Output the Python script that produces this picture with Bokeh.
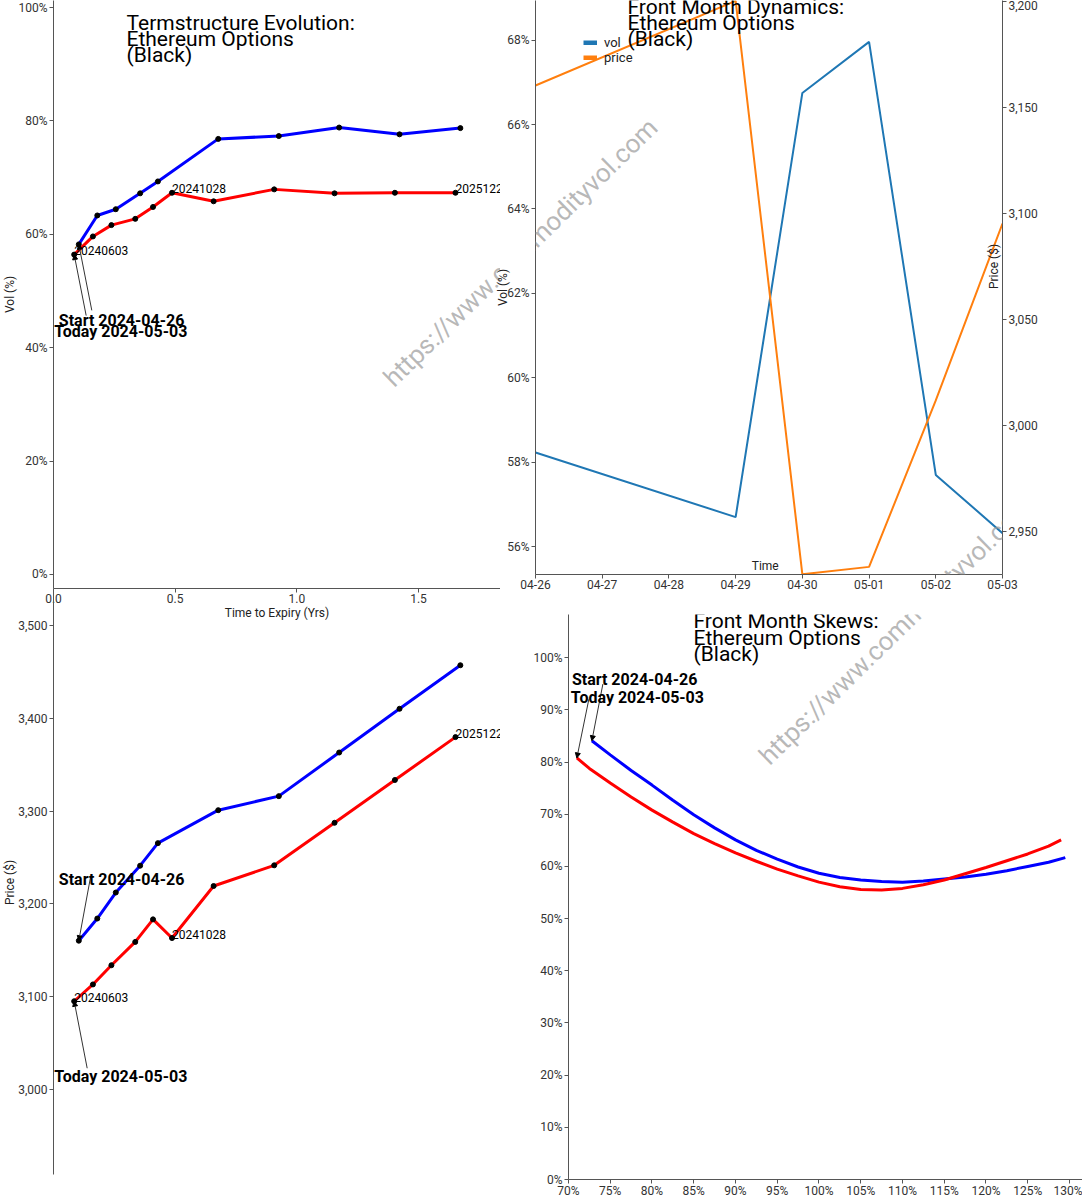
import math
import pandas as pd
from bokeh.plotting import figure
from bokeh.models import (Label, Arrow, NormalHead, Range1d, LinearAxis, DatetimeAxis,
                          NumeralTickFormatter, FixedTicker, DatetimeTickFormatter,
                          Legend, LegendItem)
from bokeh.layouts import row, column
from bokeh.embed import file_html
from bokeh.resources import INLINE
from bokeh.core.properties import value

# ---------------- data ----------------
start_date = "2024-04-26"
today_date = "2024-05-03"

ts_start_tenor = [0.104, 0.180, 0.256, 0.356, 0.429, 0.677, 0.926, 1.174, 1.422, 1.672]
ts_start_vol = [0.582, 0.633, 0.644, 0.672, 0.693, 0.768, 0.773, 0.788, 0.776, 0.787]
ts_start_price = [3160.4, 3184.3, 3212.3, 3241.2, 3265.5, 3301.0, 3316.1, 3363.1, 3410.2, 3457.1]

ts_today_tenor = [0.085, 0.162, 0.238, 0.336, 0.409, 0.487, 0.658, 0.907, 1.155, 1.403, 1.652]
ts_today_vol = [0.564, 0.596, 0.616, 0.627, 0.648, 0.673, 0.658, 0.679, 0.672, 0.673, 0.673]
ts_today_price = [3095.2, 3113.3, 3134.0, 3159.1, 3183.4, 3163.3, 3219.3, 3241.6, 3287.4, 3333.5, 3379.7]

expiry_labels = ["20240603", "20241028", "20251226"]
expiry_label_idx = [0, 5, 10]

fm_dates = ["2024-04-26", "2024-04-29", "2024-04-30", "2024-05-01", "2024-05-02", "2024-05-03"]
fm_vol = [0.5823, 0.5670, 0.6675, 0.6796, 0.5770, 0.5632]
fm_price = [3160.4, 3200.3, 2929.8, 2933.3, 3011.8, 3095.3]

skew_start_m = [0.728, 0.75, 0.775, 0.80, 0.825, 0.85, 0.875, 0.90, 0.925, 0.95, 0.975, 1.00,
                1.025, 1.05, 1.075, 1.10, 1.125, 1.15, 1.175, 1.20, 1.225, 1.25, 1.275, 1.295]
skew_start_vol = [0.841, 0.814, 0.784, 0.756, 0.727, 0.699, 0.674, 0.651, 0.631, 0.614, 0.599, 0.587,
                  0.579, 0.574, 0.571, 0.570, 0.572, 0.576, 0.580, 0.585, 0.592, 0.600, 0.608, 0.617]
skew_today_m = [0.710, 0.725, 0.75, 0.775, 0.80, 0.825, 0.85, 0.875, 0.90, 0.925, 0.95, 0.975, 1.00,
                1.025, 1.05, 1.075, 1.10, 1.125, 1.15, 1.175, 1.20, 1.225, 1.25, 1.275, 1.29]
skew_today_vol = [0.808, 0.788, 0.760, 0.733, 0.708, 0.685, 0.663, 0.644, 0.626, 0.610, 0.595, 0.582, 0.570,
                  0.561, 0.556, 0.555, 0.558, 0.565, 0.574, 0.586, 0.598, 0.611, 0.624, 0.639, 0.651]

vol_ticks_ts = [0.0, 0.2, 0.4, 0.6, 0.8, 1.0]
tenor_ticks = [0.0, 0.5, 1.0, 1.5]
price_ticks_ts = [3000, 3100, 3200, 3300, 3400, 3500]
fm_vol_ticks = [0.56, 0.58, 0.60, 0.62, 0.64, 0.66, 0.68]
fm_price_ticks = [2950, 3000, 3050, 3100, 3150, 3200]
skew_vol_ticks = [i / 10 for i in range(11)]
skew_m_ticks = [0.70 + 0.05 * i for i in range(13)]

title_ts = ["Termstructure Evolution:", "Ethereum Options", "(Black)"]
title_fm = ["Front Month Dynamics:", "Ethereum Options", "(Black)"]
title_sk = ["Front Month Skews:", "Ethereum Options", "(Black)"]
watermark = "https://www.commodityvol.com"

FONT = "Roboto"
BLUE = "#0000ff"
RED = "#ff0000"
C_VOL = "#1f77b4"
C_PRICE = "#ff7f0e"


def ms(d):
    return pd.Timestamp(d).value / 1e6


class Geo:
    """maps window pixel positions to data coordinates of one panel"""
    def __init__(self, left, top, width, height, x0, x1, y0, y1):
        self.l, self.t, self.w, self.h = left, top, width, height
        self.x0, self.x1, self.y0, self.y1 = x0, x1, y0, y1

    def x(self, px):
        return self.x0 + (px - self.l) / self.w * (self.x1 - self.x0)

    def y(self, py):
        return self.y1 - (py - self.t) / self.h * (self.y1 - self.y0)

    def dx(self, d):
        return d / self.w * (self.x1 - self.x0)

    def dy(self, d):
        return -d / self.h * (self.y1 - self.y0)


def make_fig(width, height, borders, x_range, y_range, x_axis_type="linear"):
    l, r, t, b = borders
    p = figure(width=width, height=height, x_range=x_range, y_range=y_range,
               output_backend="svg", toolbar_location=None,
               x_axis_location=None, y_axis_location=None, x_axis_type=x_axis_type,
               min_border_left=l, min_border_right=r, min_border_top=t, min_border_bottom=b,
               background_fill_color=None, border_fill_color=None, outline_line_color=None,
               frame_align=False)
    p.grid.visible = False
    return p


def add_axis(p, side, ticks, fmt, kind="linear", standoff=2, y_range_name=None,
             title=None, title_standoff=5):
    kw = {}
    if y_range_name:
        kw["y_range_name"] = y_range_name
    ax = (DatetimeAxis if kind == "datetime" else LinearAxis)(**kw)
    ax.ticker = FixedTicker(ticks=ticks)
    ax.formatter = fmt
    ax.axis_line_color = "#555555"
    ax.major_tick_line_color = "#555555"
    ax.minor_tick_line_color = None
    ax.major_tick_in = 0
    ax.major_tick_out = 4
    ax.major_label_standoff = standoff
    ax.major_label_text_font = FONT
    ax.major_label_text_font_size = "12px"
    ax.major_label_text_color = "#333333"
    if title:
        ax.axis_label = title
        ax.axis_label_standoff = title_standoff
        ax.axis_label_text_font = FONT
        ax.axis_label_text_font_size = "12px"
        ax.axis_label_text_font_style = "normal"
        ax.axis_label_text_color = "#222222"
    p.add_layout(ax, side)
    return ax


def label(p, x, y, text, size="12px", bold=False, angle=0.0, align="left",
          baseline="middle", color="#000000", alpha=1.0):
    p.add_layout(Label(x=x, y=y, text=text, text_font=FONT, text_font_size=size,
                       text_font_style="bold" if bold else "normal", angle=angle,
                       text_align=align, text_baseline=baseline,
                       text_color=color, text_alpha=alpha))


def title_block(p, g, left_px, mid_px, lines):
    for i, t in enumerate(lines):
        label(p, g.x(left_px), g.y(mid_px + i * 16.4), t, size="21px")


def wm(p, g, cx, cy):
    label(p, g.x(cx), g.y(cy), watermark, size="26px", angle=math.radians(44.3),
          align="center", baseline="middle", color="#999999", alpha=0.7)


def arrow(p, g, px, py, dax, day):
    p.add_layout(Arrow(end=NormalHead(size=5, fill_color="black", line_color="black", line_width=1),
                       x_start=px + g.dx(dax), y_start=py + g.dy(day), x_end=px, y_end=py,
                       line_color="#333333", line_width=1))


def annotate(p, g, px, py, text, dtx, dty, dax, day):
    arrow(p, g, px, py, dax, day)
    label(p, px + g.dx(dtx), py + g.dy(dty), text, size="16px", bold=True)


start_txt = "Start " + start_date
today_txt = "Today " + today_date

# ---------------- panel 1: term structure vols ----------------
x_ts = Range1d(0, 1.837)
g1 = Geo(53, 0, 447, 588, 0, 1.837, -0.0247, 1.012)
p1 = make_fig(500, 622, (53, 0, 0, 34), x_ts, Range1d(-0.0247, 1.012))
add_axis(p1, "left", vol_ticks_ts, NumeralTickFormatter(format="0%"), title="Vol (%)", title_standoff=-2)
add_axis(p1, "below", tenor_ticks, NumeralTickFormatter(format="0.0"), standoff=1,
         title="Time to Expiry (Yrs)", title_standoff=0)
wm(p1, g1, 520, 252)
p1.line(ts_start_tenor, ts_start_vol, line_color=BLUE, line_width=3)
p1.scatter(ts_start_tenor, ts_start_vol, size=5, color="black")
p1.line(ts_today_tenor, ts_today_vol, line_color=RED, line_width=3)
p1.scatter(ts_today_tenor, ts_today_vol, size=5, color="black")
p1.text([ts_today_tenor[i] for i in expiry_label_idx], [ts_today_vol[i] for i in expiry_label_idx],
        text=expiry_labels, text_font=value(FONT), text_font_size="12px",
        text_baseline="middle", y_offset=-4, text_color="black")
annotate(p1, g1, ts_start_tenor[0], ts_start_vol[0], start_txt, -20, 76, 13, 66)
annotate(p1, g1, ts_today_tenor[0], ts_today_vol[0], today_txt, -20, 77, 12, 61)
title_block(p1, g1, 126, 22, title_ts)

# ---------------- panel 2: front month dynamics ----------------
d0, d1 = pd.Timestamp(fm_dates[0]), pd.Timestamp(fm_dates[-1])
g2 = Geo(535, 0, 467, 574, ms(d0), ms(d1), 0.5534, 0.6894)
p2 = make_fig(592, 600, (45, 80, 0, 26), Range1d(d0, d1), Range1d(0.5534, 0.6894), x_axis_type="datetime")
p2.extra_y_ranges = {"price": Range1d(2929.7, 3200.5)}
p2.margin = (0, 0, 0, -10)
add_axis(p2, "left", fm_vol_ticks, NumeralTickFormatter(format="0%"), title="Vol (%)", title_standoff=-6)
add_axis(p2, "right", fm_price_ticks, NumeralTickFormatter(format="0,0"), y_range_name="price")
day_ticks = [ms(d) for d in pd.date_range(d0, d1, freq="D")]
add_axis(p2, "below", day_ticks,
         DatetimeTickFormatter(days="%m-%d", hours="%m-%d", months="%m-%d"), kind="datetime", standoff=1)
wm(p2, g2, 520, 252)
wm(p2, g2, 895.5, 630)
dts = pd.to_datetime(fm_dates)
p2.line(dts, fm_vol, line_color=C_VOL, line_width=2)
p2.line(dts, fm_price, line_color=C_PRICE, line_width=2, y_range_name="price")
nan = float("nan")
leg_vol = p2.line(dts[:1], [nan], line_color=C_VOL, line_width=5)
leg_price = p2.line(dts[:1], [nan], line_color=C_PRICE, line_width=5)
legend = Legend(items=[LegendItem(label="vol", renderers=[leg_vol]),
                       LegendItem(label="price", renderers=[leg_price])],
                location=(48, 509), padding=0, margin=0, spacing=0,
                glyph_width=14, glyph_height=5, label_height=13, label_standoff=7,
                label_text_font=FONT, label_text_font_size="13px", label_text_color="#222222",
                background_fill_alpha=0, border_line_alpha=0)
p2.add_layout(legend)
title_block(p2, g2, 627, 6, title_fm)
label(p2, g2.x(993.5), g2.y(266), "Price ($)", angle=math.pi / 2, align="center", color="#222222")
label(p2, g2.x(764.7), g2.y(565), "Time", align="center", color="#222222")

# ---------------- panel 3: term structure prices ----------------
g3 = Geo(53, 590, 447, 584, 0, 1.837, 2908.6, 3537.6)
p3 = make_fig(500, 620, (53, 0, 10, 26), x_ts, Range1d(2908.6, 3537.6))
add_axis(p3, "left", price_ticks_ts, NumeralTickFormatter(format="0,0"), title="Price ($)", title_standoff=-2)
p3.line(ts_start_tenor, ts_start_price, line_color=BLUE, line_width=3)
p3.scatter(ts_start_tenor, ts_start_price, size=5, color="black")
p3.line(ts_today_tenor, ts_today_price, line_color=RED, line_width=3)
p3.scatter(ts_today_tenor, ts_today_price, size=5, color="black")
p3.text([ts_today_tenor[i] for i in expiry_label_idx], [ts_today_price[i] for i in expiry_label_idx],
        text=expiry_labels, text_font=value(FONT), text_font_size="12px",
        text_baseline="middle", y_offset=-4, text_color="black")
annotate(p3, g3, ts_start_tenor[0], ts_start_price[0], start_txt, -20, -61, 12, -65)
annotate(p3, g3, ts_today_tenor[0], ts_today_price[0], today_txt, -20, 75, 13, 67)

# ---------------- panel 4: skews ----------------
g4 = Geo(568, 614, 514, 568, 0.70, 1.3156, 0.0, 1.083)
p4 = make_fig(582, 620, (68, 0, 34, 18), Range1d(0.70, 1.3156), Range1d(0.0, 1.083))
add_axis(p4, "left", skew_vol_ticks, NumeralTickFormatter(format="0%"))
add_axis(p4, "below", skew_m_ticks, NumeralTickFormatter(format="0%"), standoff=0)
wm(p4, g4, 895.5, 630)
p4.line(skew_start_m, skew_start_vol, line_color=BLUE, line_width=3)
p4.line(skew_today_m, skew_today_vol, line_color=RED, line_width=3)
annotate(p4, g4, skew_start_m[0], skew_start_vol[0], start_txt, -20, -62, 11, -57)
annotate(p4, g4, skew_today_m[0], skew_today_vol[0], today_txt, -6, -61, 12, -59)
title_block(p4, g4, 693, 621, title_sk)

# ---------------- layout ----------------
r1 = row(p1, p2)
r2 = row(p3, p4)
r2.margin = (-42, 0, 0, 0)
root = column(r1, r2)

open("out.html", "w").write(file_html(root, INLINE))
